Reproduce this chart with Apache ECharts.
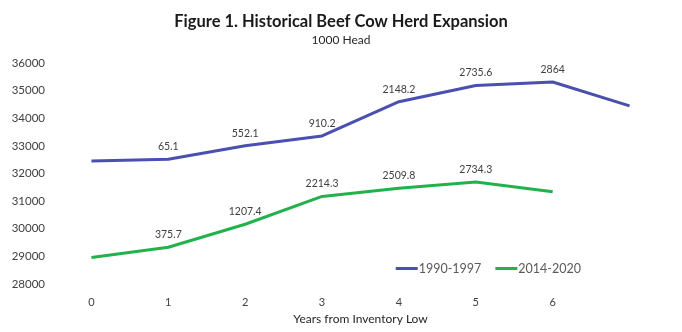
<!DOCTYPE html>
<html>
<head>
<meta charset="utf-8">
<script src="https://cdn.jsdelivr.net/npm/echarts@6/dist/echarts.min.js"></script>
<style>
  html, body { margin: 0; padding: 0; background: #fff; }
  #chart { width: 682px; height: 332px; }
</style>
</head>
<body>
<div id="chart"></div>
<script>
// Years from the inventory low (the 8th year is drawn but not labelled)
const years = ['0', '1', '2', '3', '4', '5', '6', ''];

// Herd size in the starting (low) year, 1000 head
const base1990 = 32450;
const base2014 = 28956;

// Cumulative change from the low year, 1000 head
const change1990 = [0, 65.1, 552.1, 910.2, 2148.2, 2735.6, 2864, 2000];
const change2014 = [0, 375.7, 1207.4, 2214.3, 2509.8, 2734.3, 2384, null];

// Which points carry a value label
const labelled1990 = [false, true, true, true, true, true, true, false];
const labelled2014 = [false, true, true, true, true, true, false, false];

const yTicks = { min: 28000, max: 36000, step: 1000 };

const font = 'Lato, "Open Sans", "Liberation Sans", sans-serif';

function buildSeries(base, change, labelled) {
  return change.map((c, i) => c == null ? null : {
    value: base + c,
    label: { show: labelled[i], formatter: () => String(c) }
  });
}

const chart = echarts.init(document.getElementById('chart'), null, { renderer: 'canvas' });

chart.setOption({
  animation: false,
  backgroundColor: '#ffffff',
  title: {
    text: 'Figure 1. Historical Beef Cow Herd Expansion',
    subtext: '1000 Head',
    left: 'center',
    top: 8,
    itemGap: 4,
    textStyle: { fontFamily: font, fontSize: 16.5, fontWeight: 'bold', color: '#1a1a1a' },
    subtextStyle: { fontFamily: font, fontSize: 12, color: '#262626' }
  },
  grid: { left: 53, right: 14, top: 63, bottom: 48 },
  legend: {
    right: 96,
    top: 257,
    itemWidth: 22,
    itemHeight: 3,
    itemGap: 14,
    icon: 'rect',
    textStyle: { fontFamily: font, fontSize: 12.5, color: '#595959', padding: [0, 0, 0, -4] },
    data: ['1990-1997', '2014-2020']
  },
  xAxis: {
    type: 'category',
    data: years,
    boundaryGap: true,
    name: 'Years from Inventory Low',
    nameLocation: 'middle',
    nameGap: 29,
    nameTextStyle: { fontFamily: font, fontSize: 12, color: '#262626' },
    axisLine: { show: false },
    axisTick: { show: false },
    axisLabel: { fontFamily: font, fontSize: 11, color: '#404040', margin: 13 }
  },
  yAxis: {
    type: 'value',
    min: yTicks.min,
    max: yTicks.max,
    interval: yTicks.step,
    axisLine: { show: false },
    axisTick: { show: false },
    splitLine: { show: false },
    axisLabel: {
      fontFamily: font, fontSize: 11.5, color: '#404040', margin: 8,
      formatter: v => String(v)
    }
  },
  series: [
    {
      name: '1990-1997',
      type: 'line',
      data: buildSeries(base1990, change1990, labelled1990),
      symbol: 'circle',
      symbolSize: 0.01,
      showSymbol: true,
      lineStyle: { width: 3, color: '#4a4fb0' },
      itemStyle: { color: '#4a4fb0' },
      label: { show: true, position: 'top', distance: 7, fontFamily: font, fontSize: 10.5, color: '#404040' }
    },
    {
      name: '2014-2020',
      type: 'line',
      data: buildSeries(base2014, change2014, labelled2014),
      symbol: 'circle',
      symbolSize: 0.01,
      showSymbol: true,
      lineStyle: { width: 3, color: '#22b24c' },
      itemStyle: { color: '#22b24c' },
      label: { show: true, position: 'top', distance: 7, fontFamily: font, fontSize: 10.5, color: '#404040' }
    }
  ]
});
</script>
</body>
</html>
